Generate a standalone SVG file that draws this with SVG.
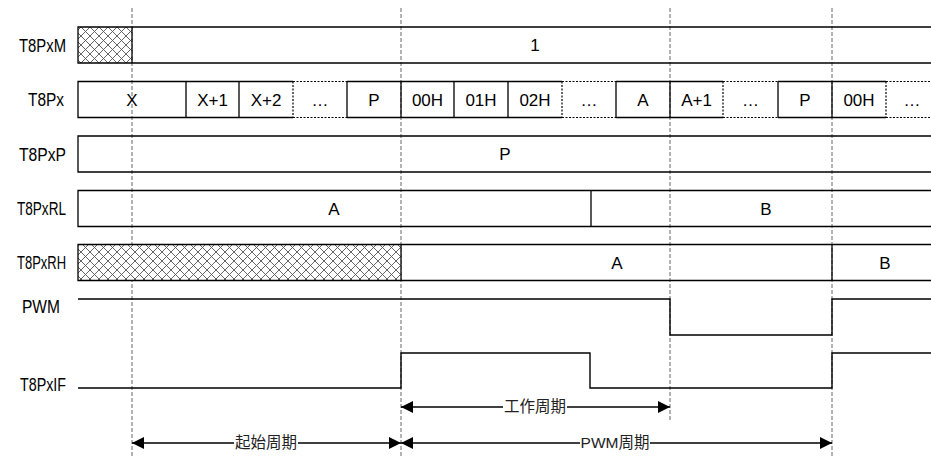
<svg xmlns="http://www.w3.org/2000/svg" width="931" height="458" viewBox="0 0 931 458">
<style>
text{font-family:"Liberation Sans",Arial,sans-serif;font-size:17px;fill:#000}
.lbl{text-anchor:end;font-size:18px}
.c{text-anchor:middle}
.cj{font-family:"Liberation Sans","Noto Sans CJK SC",sans-serif;font-size:15.5px;fill:#222;text-anchor:middle}
.sl{stroke:#000;stroke-width:1.3;fill:none}
.dot{stroke:#000;stroke-width:1.2;stroke-dasharray:2 1.5;fill:none}
.guide{stroke:#666;stroke-width:1;stroke-dasharray:4 2;fill:none}
.wave{stroke:#000;stroke-width:1.4;fill:none}
.arr{stroke:#000;stroke-width:1.3;fill:none;marker-end:url(#ah)}
</style>
<defs>
<pattern id="hatch" patternUnits="userSpaceOnUse" width="9" height="9">
<rect width="9" height="9" fill="#fff"/>
<path d="M0,0 L9,9 M9,0 L0,9" stroke="#555" stroke-width="0.9"/>
</pattern>
<marker id="ah" markerUnits="userSpaceOnUse" markerWidth="13" markerHeight="12" refX="12" refY="6" orient="auto">
<path d="M0,0 L12,6 L0,12 z" fill="#000"/>
</marker>
</defs>

<g id="guides">
<path class="guide" d="M132,8 V456 M401,8 V456 M670,8 V420 M832,8 V456"/>
</g>

<g id="T8PxM">
<text class="lbl" x="66" y="52" textLength="47" lengthAdjust="spacingAndGlyphs">T8PxM</text>
<rect x="78" y="27" width="54" height="36" fill="url(#hatch)" stroke="none"/>
<path class="sl" d="M935,27 H78 V63 H935 M132,27 V63"/>
<text class="c" x="535" y="51">1</text>
</g>

<g id="T8Px">
<text class="lbl" x="64" y="106" textLength="36" lengthAdjust="spacingAndGlyphs">T8Px</text>
<path class="sl" d="M293,81.5 H78 V117.5 H293 M347,81.5 H562 M347,117.5 H562 M616,81.5 H723 M616,117.5 H723 M778,81.5 H886 M778,117.5 H886 M186,81.5 V117.5 M239,81.5 V117.5 M347,81.5 V117.5 M401,81.5 V117.5 M454,81.5 V117.5 M508,81.5 V117.5 M616,81.5 V117.5 M670,81.5 V117.5 M778,81.5 V117.5 M832,81.5 V117.5"/>
<path class="dot" d="M293,81.5 H347 M293,117.5 H347 M293,81.5 V117.5 M562,81.5 H616 M562,117.5 H616 M562,81.5 V117.5 M723,81.5 H778 M723,117.5 H778 M723,81.5 V117.5 M886,81.5 H935 M886,117.5 H935 M886,81.5 V117.5"/>
<text class="c" x="132" y="106">X</text>
<text class="c" x="212.5" y="106">X+1</text>
<text class="c" x="266" y="106">X+2</text>
<text class="c" x="320" y="106">…</text>
<text class="c" x="374" y="106">P</text>
<text class="c" x="427.5" y="106">00H</text>
<text class="c" x="481" y="106">01H</text>
<text class="c" x="535" y="106">02H</text>
<text class="c" x="589" y="106">…</text>
<text class="c" x="643" y="106">A</text>
<text class="c" x="696.5" y="106">A+1</text>
<text class="c" x="750.5" y="106">…</text>
<text class="c" x="805" y="106">P</text>
<text class="c" x="859" y="106">00H</text>
<text class="c" x="912" y="106">…</text>
</g>

<g id="T8PxP">
<text class="lbl" x="66" y="161" textLength="47" lengthAdjust="spacingAndGlyphs">T8PxP</text>
<path class="sl" d="M935,136 H78 V172 H935"/>
<text class="c" x="505" y="160">P</text>
</g>

<g id="T8PxRL">
<text class="lbl" x="66" y="215" textLength="49" lengthAdjust="spacingAndGlyphs">T8PxRL</text>
<path class="sl" d="M935,190.5 H78 V226.5 H935 M591,190.5 V226.5"/>
<text class="c" x="334" y="215">A</text>
<text class="c" x="766" y="215">B</text>
</g>

<g id="T8PxRH">
<text class="lbl" x="66" y="269" textLength="49" lengthAdjust="spacingAndGlyphs">T8PxRH</text>
<rect x="78" y="244.5" width="323" height="36" fill="url(#hatch)" stroke="none"/>
<path class="sl" d="M935,244.5 H78 V280.5 H935 M401,244.5 V280.5 M832,244.5 V280.5"/>
<text class="c" x="617" y="269">A</text>
<text class="c" x="885" y="269">B</text>
</g>

<g id="PWM">
<text class="lbl" x="60" y="313" textLength="38" lengthAdjust="spacingAndGlyphs">PWM</text>
<path class="wave" d="M78,299 H670 V335 H832 V299 H935"/>
</g>

<g id="T8PxIF">
<text class="lbl" x="66" y="391" textLength="46" lengthAdjust="spacingAndGlyphs">T8PxIF</text>
<path class="wave" d="M78,388 H401 V353 H590 V388 H832 V353 H935"/>
</g>

<g id="connectors">
<path class="arr" d="M503,407 H401"/>
<path class="arr" d="M567,407 H670"/>
<path class="arr" d="M234,443 H132"/>
<path class="arr" d="M298,443 H401"/>
<path class="arr" d="M580,443 H401"/>
<path class="arr" d="M650,443 H832"/>
</g>
<g id="labels">
<text class="cj" x="535" y="412">工作周期</text>
<text class="cj" x="266" y="448">起始周期</text>
<text class="cj" x="615" y="448">PWM周期</text>
</g>
</svg>
